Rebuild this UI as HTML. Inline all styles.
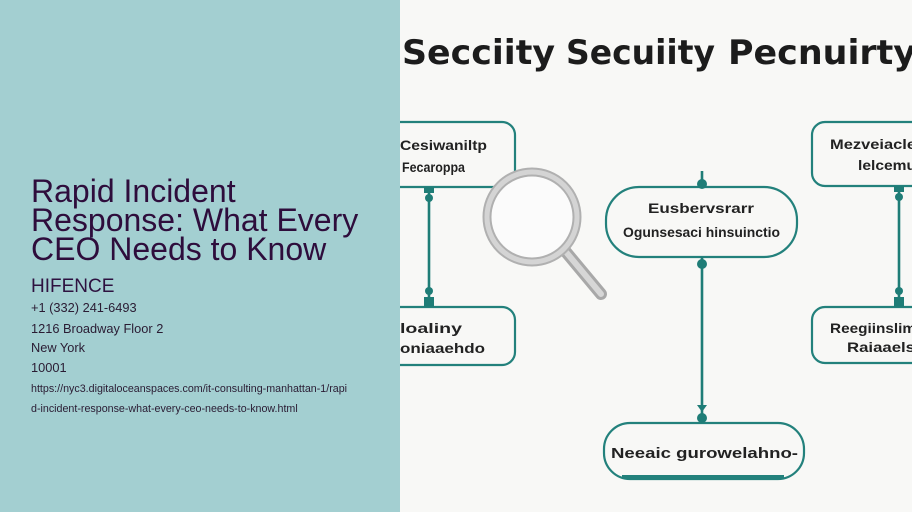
<!DOCTYPE html>
<html>
<head>
<meta charset="utf-8">
<style>
html,body{margin:0;padding:0;}
body{width:912px;height:512px;overflow:hidden;position:relative;background:#f8f8f6;font-family:"Liberation Sans",Arial,sans-serif;}
#left{position:absolute;left:0;top:0;width:400px;height:512px;background:#a3cfd1;}
.t{position:absolute;left:31px;white-space:nowrap;}
.title{font-size:32px;line-height:28.7px;color:#2e0d3c;top:177.3px;}
.co{font-size:19px;line-height:19px;color:#2e1240;top:276.6px;}
.c{font-size:12.8px;line-height:20px;color:#2a1c33;}
.u{font-size:10.7px;line-height:20px;color:#2a1c33;}
svg{position:absolute;left:400px;top:0;}
</style>
</head>
<body>
<div id="left">
  <div class="t title">Rapid Incident<br>Response: What Every<br>CEO Needs to Know</div>
  <div class="t co">HIFENCE</div>
  <div class="t c" style="top:298.2px">+1 (332) 241-6493</div>
  <div class="t c" style="top:318.8px">1216 Broadway Floor 2</div>
  <div class="t c" style="top:338.2px">New York</div>
  <div class="t c" style="top:358.2px">10001</div>
  <div class="t u" style="top:378.6px">https://nyc3.digitaloceanspaces.com/it-consulting-manhattan-1/rapi</div>
  <div class="t u" style="top:398.6px">d-incident-response-what-every-ceo-needs-to-know.html</div>
</div>
<svg width="512" height="512" viewBox="400 0 512 512" xmlns="http://www.w3.org/2000/svg">
  <rect x="400" y="0" width="512" height="512" fill="#f8f8f6"/>
  <g font-family="DejaVu Sans, Liberation Sans, sans-serif" font-weight="bold" font-size="34" fill="#1c1c1c">
    <text x="402" y="64" textLength="153" lengthAdjust="spacingAndGlyphs">Secciity</text>
    <text x="566" y="64" textLength="149" lengthAdjust="spacingAndGlyphs">Secuiity</text>
    <text x="728" y="64" textLength="188" lengthAdjust="spacingAndGlyphs">Pecnuirty</text>
  </g>
  <g fill="none" stroke="#23817c" stroke-width="2.2">
    <rect x="380" y="122" width="135" height="65" rx="13"/>
    <rect x="380" y="307" width="135" height="58" rx="13"/>
    <rect x="812" y="122" width="130" height="64" rx="13"/>
    <rect x="812" y="307" width="130" height="56" rx="13"/>
    <rect x="606" y="187" width="191" height="70" rx="33"/>
    <rect x="604" y="423" width="200" height="56" rx="26"/>
  </g>
  <line x1="622" y1="477" x2="784" y2="477" stroke="#23817c" stroke-width="4"/>
  <g stroke="#1f7d77" stroke-width="2.6" fill="#1f7d77">
    <line x1="429" y1="187" x2="429" y2="307"/>
    <line x1="899" y1="186" x2="899" y2="307"/>
    <line x1="702" y1="171" x2="702" y2="187"/>
    <line x1="702" y1="257" x2="702" y2="423"/>
  </g>
  <g fill="#1f7d77">
    <rect x="424" y="187" width="10" height="6"/>
    <circle cx="429" cy="198" r="4"/>
    <circle cx="429" cy="291" r="4"/>
    <rect x="424" y="297" width="10" height="10"/>
    <rect x="894" y="186" width="10" height="6"/>
    <circle cx="899" cy="197" r="4"/>
    <circle cx="899" cy="291" r="4"/>
    <rect x="894" y="297" width="10" height="10"/>
    <circle cx="702" cy="184" r="5"/>
    <circle cx="702" cy="264" r="5"/>
    <path d="M697 405 L702 412 L707 405 Z"/>
    <circle cx="702" cy="418" r="5"/>
  </g>
  <line x1="566" y1="252" x2="601" y2="294" stroke="#a8a8a8" stroke-width="12" stroke-linecap="round"/>
  <line x1="566" y1="252" x2="601" y2="294" stroke="#d6d6d6" stroke-width="6" stroke-linecap="round"/>
  <circle cx="532" cy="217" r="45" fill="#fbfbfb" stroke="#b0b0b0" stroke-width="9"/>
  <circle cx="532" cy="217" r="45" fill="none" stroke="#d4d4d4" stroke-width="5"/>
  <g font-family="Liberation Sans, sans-serif" font-weight="bold" fill="#222">
    <text x="400" y="150" font-size="14" textLength="87" lengthAdjust="spacingAndGlyphs">Cesiwaniltp</text>
    <text x="402" y="172" font-size="14" textLength="63" lengthAdjust="spacingAndGlyphs">Fecaroppa</text>
    <text x="400" y="333" font-size="14" textLength="62" lengthAdjust="spacingAndGlyphs">loaliny</text>
    <text x="400" y="353" font-size="14" textLength="85" lengthAdjust="spacingAndGlyphs">oniaaehdo</text>
    <text x="648" y="213" font-size="14" textLength="106" lengthAdjust="spacingAndGlyphs">Eusbervsrarr</text>
    <text x="623" y="237" font-size="14" textLength="157" lengthAdjust="spacingAndGlyphs">Ogunsesaci hinsuinctio</text>
    <text x="611" y="458" font-size="15" textLength="187" lengthAdjust="spacingAndGlyphs">Neeaic gurowelahno-</text>
    <text x="830" y="149" font-size="14" textLength="86" lengthAdjust="spacingAndGlyphs">Mezveiacle</text>
    <text x="858" y="170" font-size="14" textLength="58" lengthAdjust="spacingAndGlyphs">lelcemu</text>
    <text x="830" y="333" font-size="14" textLength="86" lengthAdjust="spacingAndGlyphs">Reegiinslim</text>
    <text x="847" y="352" font-size="14" textLength="68" lengthAdjust="spacingAndGlyphs">Raiaaels</text>
  </g>
</svg>
</body>
</html>
